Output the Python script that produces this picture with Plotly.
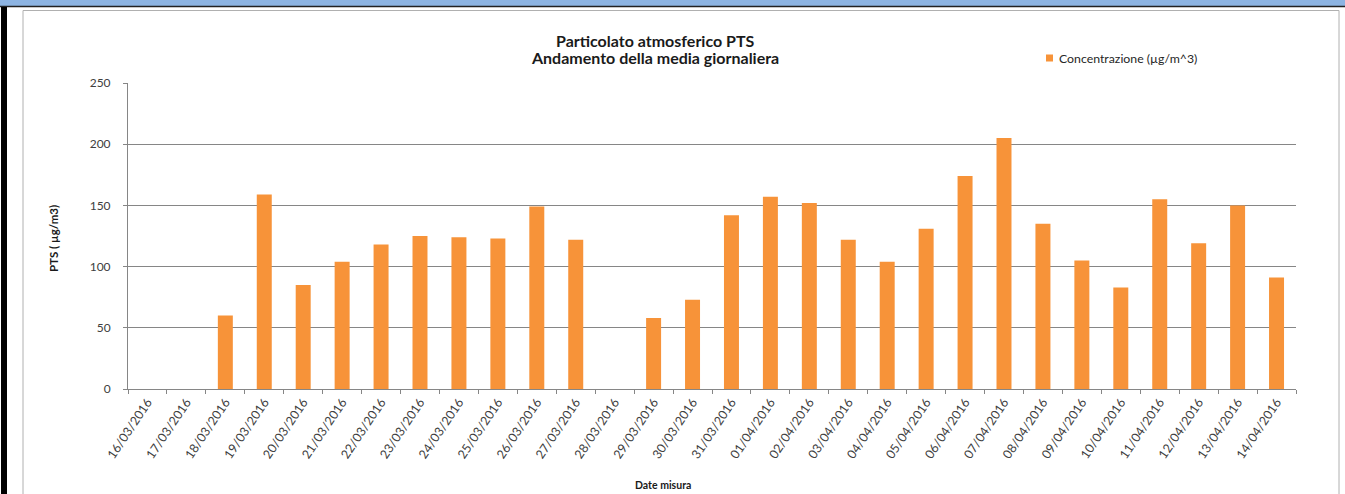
import plotly.graph_objects as go

# Daily mean PTS concentration (µg/m3); None = no measurement
dates = [
    "16/03/2016", "17/03/2016", "18/03/2016", "19/03/2016", "20/03/2016",
    "21/03/2016", "22/03/2016", "23/03/2016", "24/03/2016", "25/03/2016",
    "26/03/2016", "27/03/2016", "28/03/2016", "29/03/2016", "30/03/2016",
    "31/03/2016", "01/04/2016", "02/04/2016", "03/04/2016", "04/04/2016",
    "05/04/2016", "06/04/2016", "07/04/2016", "08/04/2016", "09/04/2016",
    "10/04/2016", "11/04/2016", "12/04/2016", "13/04/2016", "14/04/2016",
]
concentrazione = [
    None, None, 60, 159, 85, 104, 118, 125, 124, 123,
    149, 122, None, 58, 73, 142, 157, 152, 122, 104,
    131, 174, 205, 135, 105, 83, 155, 119, 150, 91,
]
y_ticks = [0, 50, 100, 150, 200, 250]

W, H = 1345, 494
L, R, T, B = 128, 1296, 83, 389  # plot area in pixels

BAR = "#F79339"
GRID = "#868686"
FONT = "Lato, 'Open Sans', sans-serif"


def px(x):
    return (x - L) / (R - L)


def py(y):
    return (B - y) / (B - T)


fig = go.Figure()
fig.add_trace(go.Bar(
    x=dates, y=concentrazione, name="Concentrazione (µg/m^3)",
    marker=dict(color=BAR, line=dict(width=0)), showlegend=False,
))

shapes = [
    # header band
    dict(type="rect", xref="paper", yref="paper", x0=px(0), x1=px(W), y0=py(6), y1=py(-2),
         fillcolor="#8DB4E2", line=dict(width=0), layer="below"),
    dict(type="line", xref="paper", yref="paper", x0=px(0), x1=px(W), y0=py(6.5), y1=py(6.5),
         line=dict(color="#222222", width=1.5)),
    # left page border
    dict(type="rect", xref="paper", yref="paper", x0=px(1), x1=px(7), y0=py(H + 2), y1=py(7),
         fillcolor="#000000", line=dict(width=0)),
    # chart frame
    dict(type="rect", xref="paper", yref="paper", x0=px(23), x1=px(1339), y0=py(H + 5), y1=py(10.5),
         line=dict(color="#B0B0B0", width=1), fillcolor="rgba(0,0,0,0)", layer="below"),
    # legend swatch
    dict(type="rect", xref="paper", yref="paper", x0=px(1046), x1=px(1053), y0=py(61.5), y1=py(54.5),
         fillcolor=BAR, line=dict(width=0)),
]

title_font = dict(family=FONT, size=16, color="#1a1a1a")
annotations = [
    dict(text="<b>Particolato atmosferico PTS</b>",
         xref="paper", yref="paper", x=px(655), y=py(40), xanchor="center", yanchor="middle",
         showarrow=False, font=title_font),
    dict(text="<b>Andamento della media giornaliera</b>",
         xref="paper", yref="paper", x=px(655), y=py(57.5), xanchor="center", yanchor="middle",
         showarrow=False, font=title_font),
    dict(text="Concentrazione (µg/m^3)", xref="paper", yref="paper", x=px(1057), y=py(58),
         xanchor="left", yanchor="middle", showarrow=False,
         font=dict(family=FONT, size=12.3, color="#262626")),
    dict(text="<b>PTS ( µg/m3)</b>", xref="paper", yref="paper", x=px(53), y=py(238),
         xanchor="center", yanchor="middle", textangle=-90, showarrow=False,
         font=dict(family=FONT, size=11.5, color="#1a1a1a")),
    dict(text="<b>Date misura</b>", xref="paper", yref="paper", x=px(663), y=py(485),
         xanchor="center", yanchor="middle", showarrow=False,
         font=dict(family=FONT, size=10.5, color="#1a1a1a")),
]

fig.update_layout(
    width=W, height=H,
    margin=dict(l=L, r=W - R, t=T, b=H - B, pad=0),
    paper_bgcolor="white", plot_bgcolor="white",
    bargap=0.615,
    shapes=shapes, annotations=annotations,
    font=dict(family=FONT, color="#404040"),
    xaxis=dict(
        type="category", categoryorder="array", categoryarray=dates,
        showgrid=False, showline=True, linecolor=GRID, linewidth=1,
        ticks="outside", tickson="boundaries", ticklen=4, tickcolor=GRID,
        tickangle=-56, tickfont=dict(family=FONT, size=12.5, color="#404040"),
        fixedrange=True,
    ),
    yaxis=dict(
        range=[0, 250], tickvals=y_ticks, showgrid=True, gridcolor=GRID, gridwidth=1,
        showline=True, linecolor=GRID, linewidth=1, zeroline=False,
        ticks="outside", ticklen=4, tickcolor=GRID, ticklabelstandoff=10,
        tickfont=dict(family=FONT, size=12, color="#404040"),
        fixedrange=True,
    ),
)

fig.write_html("out.html")
